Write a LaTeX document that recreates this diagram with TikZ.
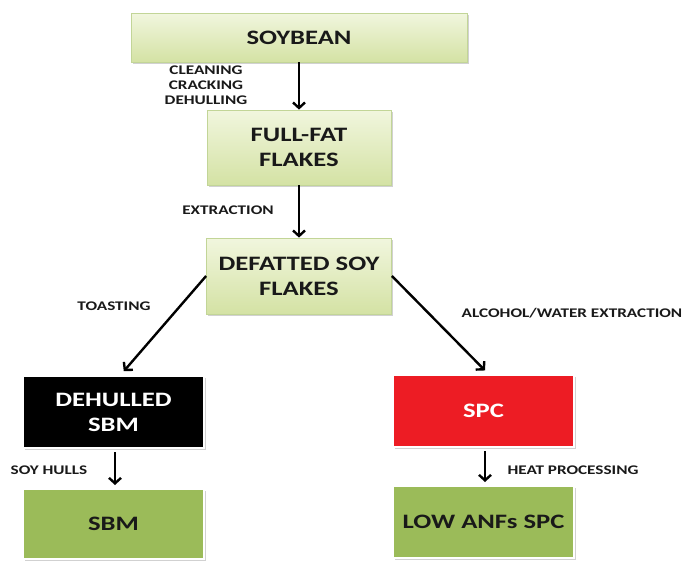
\documentclass[tikz,border=0pt]{standalone}
\usepackage{fontspec}
\setmainfont{Carlito}[FakeStretch=1.3]
\usetikzlibrary{arrows.meta,shadows,calc}
\definecolor{lgtop}{HTML}{F1F6DE}
\definecolor{lgbot}{HTML}{D4E2A4}
\definecolor{lgbrd}{HTML}{C2D597}
\definecolor{olive}{HTML}{9BBB59}
\definecolor{redbox}{HTML}{ED1C24}
\begin{document}
\begin{tikzpicture}[x=1pt,y=-1pt,
  shd/.style={drop shadow={shadow xshift=1.5pt,shadow yshift=-1.5pt,fill=black!40,opacity=.45}},
  paleBox/.style={shd,draw=lgbrd,line width=0.8pt,top color=lgtop,bottom color=lgbot,
     align=center,font=\fontsize{20.5}{25}\selectfont\bfseries,text=black!90,inner sep=0pt},
  solidBox/.style={shd,draw=white,line width=2pt,align=center,
     font=\fontsize{20.5}{25}\selectfont\bfseries,inner sep=0pt},
  lbl/.style={align=center,font=\fontsize{13.2}{15}\selectfont\bfseries,text=black!90,inner sep=0pt},
  arr/.style={line width=2.4pt,-{Straight Barb[length=5.5pt,width=12pt,line width=2.4pt]}}]
\useasboundingbox (0,0) rectangle (687,562);
\fill[white] (0,0) rectangle (687,562);
\node[paleBox,minimum width=336pt,minimum height=49pt] (soy) at (299,37.5) {SOYBEAN};
\node[paleBox,minimum width=184pt,minimum height=75pt] (ff) at (299,147.5) {FULL-FAT\\FLAKES};
\node[paleBox,minimum width=185pt,minimum height=76pt] (dsf) at (299,276) {DEFATTED SOY\\FLAKES};
\node[solidBox,fill=black,text=white,minimum width=181pt,minimum height=72pt] (deh) at (113.5,412) {DEHULLED\\SBM};
\node[solidBox,fill=redbox,text=white,minimum width=181pt,minimum height=72pt] (spc) at (483.5,411) {SPC};
\node[solidBox,fill=olive,text=black!90,minimum width=181pt,minimum height=70pt] (sbm) at (113.5,524) {SBM};
\node[solidBox,fill=olive,text=black!90,minimum width=181pt,minimum height=72pt] (low) at (483.5,522) {LOW ANFs SPC};

\node[lbl] (l1) at (206,85) {CLEANING\\CRACKING\\DEHULLING};
\node[lbl] (l2) at (228,210) {EXTRACTION};
\node[lbl] (l3) at (114,306) {TOASTING};
\node[lbl] (l4) at (572,313) {ALCOHOL/WATER EXTRACTION};
\node[lbl] (l5) at (49,470) {SOY HULLS};
\node[lbl] (l6) at (573,470) {HEAT PROCESSING};

\draw[arr] (soy.south) -- (ff.north);
\draw[arr] (ff.south) -- (dsf.north);
\draw[arr,shorten >=5pt] (dsf.west) -- ($(deh.north)+(7,0)$);
\draw[arr,shorten >=5pt] (dsf.east) -- ($(spc.north)+(5,0)$);
\draw[arr,shorten <=3pt,shorten >=3pt] ($(deh.south)+(1.5,0)$) -- ($(sbm.north)+(1.5,0)$);
\draw[arr,shorten <=3pt,shorten >=3pt] ($(spc.south)+(1.5,0)$) -- ($(low.north)+(1.5,0)$);
\end{tikzpicture}
\end{document}
